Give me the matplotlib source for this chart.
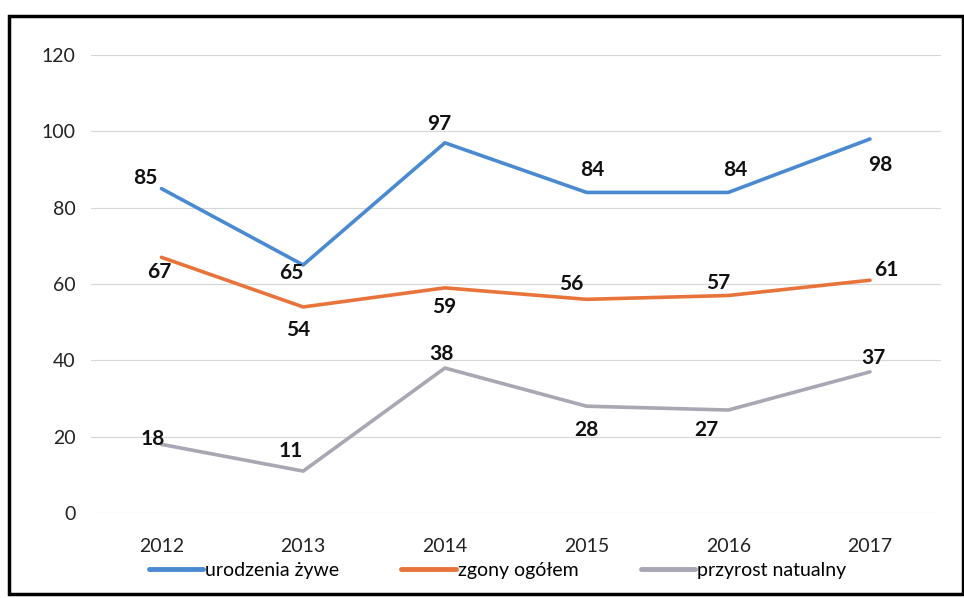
import matplotlib
matplotlib.use("Agg")
import matplotlib.pyplot as plt
from matplotlib.patches import Rectangle

plt.rcParams['font.family'] = ['Lato', 'DejaVu Sans']

# data
years = ['2012', '2013', '2014', '2015', '2016', '2017']
urodzenia = [85, 65, 97, 84, 84, 98]
zgony = [67, 54, 59, 56, 57, 61]
przyrost = [18, 11, 38, 28, 27, 37]

# label offsets in pixels (dx, dy)
off_u = [(-16, 11), (-12, -8), (-6, 19), (6, 22), (7, 22), (10, -26)]
off_z = [(-2, -15), (-5, -23), (-1, -19), (-15, 15), (-10, 13), (16, 10)]
off_p = [(-9, 5), (-12, 20), (-3, 14), (0, -24), (-22, -20), (3, 14)]

fig = plt.figure(figsize=(9.64, 5.98), dpi=100)
ax = fig.add_axes([0.094, 0.142, 0.882, 0.766])

x = list(range(len(years)))
series = [
    (urodzenia, '#4a8ad0', 'urodzenia żywe', off_u),
    (zgony, '#e8743b', 'zgony ogółem', off_z),
    (przyrost, '#aaa6b4', 'przyrost natualny', off_p),
]
for vals, col, lab, offs in series:
    ax.plot(x, vals, color=col, lw=2.6, label=lab, solid_capstyle='round')
    for xi, v, (dx, dy) in zip(x, vals, offs):
        ax.annotate(str(v), (xi, v), xytext=(dx * 0.72, dy * 0.72),
                    textcoords='offset points', ha='center', va='center',
                    fontsize=15, fontweight='bold', color='#111111')

ax.set_xlim(-0.5, len(years) - 0.5)
ax.set_ylim(0, 120)
ax.set_yticks(range(0, 121, 20))
ax.set_xticks(x)
ax.set_xticklabels(years)
ax.grid(axis='y', color='#d6d6d6', lw=0.8)
ax.set_axisbelow(True)
for s in ax.spines.values():
    s.set_visible(False)
ax.tick_params(length=0, labelsize=14, colors='#222222')
ax.tick_params(axis='y', pad=11)
ax.tick_params(axis='x', pad=18)

fig.legend(loc='lower center', bbox_to_anchor=(0.516, 0.003), ncol=3,
           frameon=False, fontsize=14, handlelength=2.8, handletextpad=0.1,
           columnspacing=3.2)
for line in fig.legends[0].get_lines():
    line.set_linewidth(3.5)

fig.patches.append(Rectangle((0.009, 0.006), 0.99, 0.968, transform=fig.transFigure,
                             fill=False, edgecolor='black', lw=2.5))

fig.savefig('out.png', dpi=100)
